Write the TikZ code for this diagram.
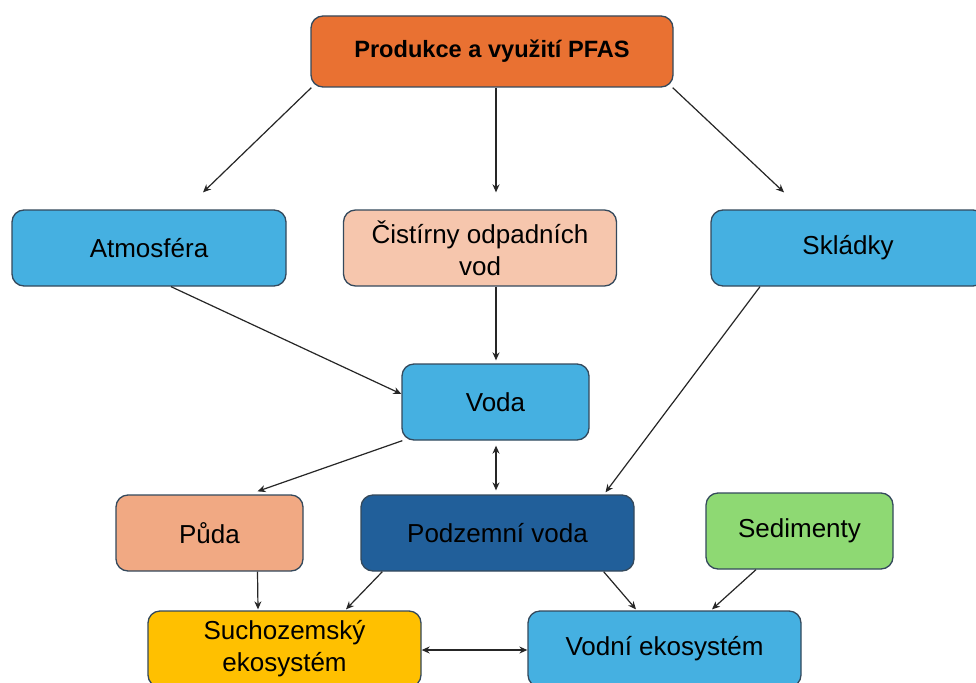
\documentclass[tikz,border=0pt]{standalone}
\usepackage{fontspec}
\setmainfont{Liberation Sans}
\usetikzlibrary{calc,arrows.meta}
\definecolor{cOrange}{HTML}{E97132}
\definecolor{cBlue}{HTML}{45B0E1}
\definecolor{cPeach}{HTML}{F6C6AD}
\definecolor{cSalmon}{HTML}{F1A983}
\definecolor{cDark}{HTML}{215F9A}
\definecolor{cGreen}{HTML}{8ED973}
\definecolor{cYellow}{HTML}{FFC000}
\definecolor{cBorder}{HTML}{34495C}
\tikzset{
  box/.style={draw=cBorder, line width=1.3pt, rounded corners=12pt, inner sep=0pt,
    minimum height=76pt, align=center, text=black,
    font=\fontsize{26}{32}\selectfont},
  wide/.style={box, minimum width=273pt},
  narrow/.style={box, minimum width=187pt},
  arr/.style={draw=black!85, line width=1.2pt, -{Stealth[length=8pt,width=7pt]}},
  darr/.style={draw=black!85, line width=1.2pt, {Stealth[length=8pt,width=7pt]}-{Stealth[length=8pt,width=7pt]}}
}
\begin{document}
\begin{tikzpicture}[x=1pt,y=-1pt]
\useasboundingbox (0,0) rectangle (976,682);
\fill[white] (0,0) rectangle (976,682);
\clip (0,0) rectangle (976,682);

\node[box, fill=cOrange, minimum width=362pt, minimum height=71pt,
  font=\fontsize{23.6}{28}\selectfont\bfseries] (pfas) at (492,51.5) {Produkce a využití PFAS};
\node[wide, fill=cBlue, minimum width=274pt] (atm) at (149,248) {Atmosféra};
\node[wide, fill=cPeach] (cist) at (480,248) {Čistírny odpadních\\vod};
\node[wide, fill=cBlue, minimum width=274pt] (sklad) at (848,248) {Skládky};
\node[narrow, fill=cBlue] (voda) at (495.5,402) {Voda};
\node[narrow, fill=cSalmon] (puda) at (209.5,533) {Půda};
\node[wide, fill=cDark] (podz) at (497.5,533) {Podzemní voda};
\node[narrow, fill=cGreen] (sed) at (799.5,531) {Sedimenty};
\node[wide, fill=cYellow] (sucho) at (284.5,649) {Suchozemský\\ekosystém};
\node[wide, fill=cBlue] (vodni) at (664.5,649) {Vodní ekosystém};

\draw[arr] ($(pfas.south west)+(1,0)$) -- ($(atm.north)+(54,-17)$);
\draw[arr] ($(pfas.south)+(4,0)$) -- ($(cist.north)+(16,-17)$);
\draw[arr] ($(pfas.south east)+(-1,0)$) -- ($(sklad.north)+(-64,-17)$);
\draw[arr] ($(atm.south)+(22,0)$) -- ($(voda.west)+(0,-8)$);
\draw[arr] ($(cist.south)+(16,0)$) -- ($(voda.north)+(0.5,-3)$);
\draw[arr] ($(sklad.south)+(-88,0)$) -- ($(podz.north)+(108,-2)$);
\draw[arr] ($(voda.south west)+(1,0)$) -- ($(puda.north)+(48,-3)$);
\draw[darr] ($(voda.south)+(0.5,5)$) -- ($(podz.north)+(-1.5,-4)$);
\draw[arr] ($(puda.south)+(48,0)$) -- ($(sucho.north)+(-26.5,-1)$);
\draw[arr] ($(podz.south west)+(22,0)$) -- ($(sucho.north)+(61.5,-1)$);
\draw[arr] ($(podz.south east)+(-31,0)$) -- ($(vodni.north)+(-28.5,-1)$);
\draw[arr] ($(sed.south)+(-43.5,0)$) -- ($(vodni.north)+(47.5,-1)$);
\draw[darr] ($(sucho.east)+(0,1)$) -- ($(vodni.west)+(0,1)$);
\end{tikzpicture}
\end{document}
